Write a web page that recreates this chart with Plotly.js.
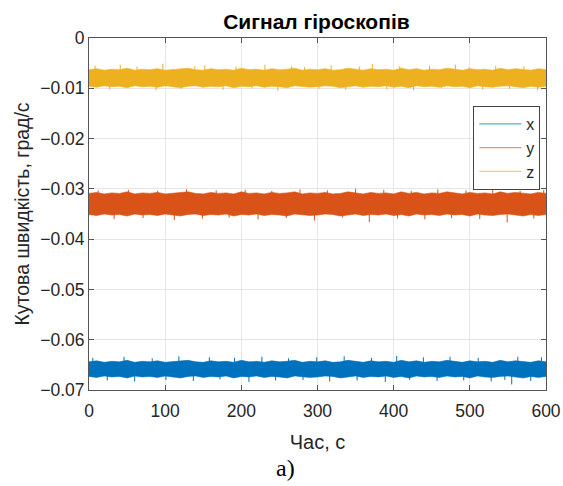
<!DOCTYPE html>
<html>
<head>
<meta charset="utf-8">
<script src="https://cdn.plot.ly/plotly-3.0.1.min.js"></script>
<style>html,body{margin:0;padding:0;background:#fff}#chart{width:563px;height:486px}</style>
</head>
<body>
<div id="chart"></div>
<script>
// Time, s
var time = [0,10,20,30,40,50,60,70,80,90,100,110,120,130,140,150,160,170,180,190,200,210,220,230,240,250,260,270,280,290,300,310,320,330,340,350,360,370,380,390,400,410,420,430,440,450,460,470,480,490,500,510,520,530,540,550,560,570,580,590,600];

// Upper and lower edges of the dense noise band of each gyro signal, deg/s
var zUpper = [-0.0063,-0.0061,-0.0064,-0.0062,-0.0063,-0.0060,-0.0064,-0.0062,-0.0063,-0.0061,-0.0064,-0.0063,-0.0062,-0.0060,-0.0063,-0.0064,-0.0061,-0.0063,-0.0062,-0.0064,-0.0060,-0.0063,-0.0062,-0.0064,-0.0061,-0.0063,-0.0062,-0.0060,-0.0064,-0.0062,-0.0063,-0.0061,-0.0064,-0.0063,-0.0060,-0.0062,-0.0064,-0.0061,-0.0063,-0.0062,-0.0064,-0.0060,-0.0063,-0.0061,-0.0064,-0.0062,-0.0063,-0.0060,-0.0062,-0.0064,-0.0061,-0.0063,-0.0062,-0.0064,-0.0060,-0.0063,-0.0061,-0.0062,-0.0064,-0.0061,-0.0063];
var zLower = [-0.0096,-0.0098,-0.0095,-0.0097,-0.0096,-0.0099,-0.0095,-0.0097,-0.0096,-0.0098,-0.0095,-0.0097,-0.0099,-0.0096,-0.0095,-0.0098,-0.0096,-0.0097,-0.0095,-0.0099,-0.0096,-0.0097,-0.0095,-0.0098,-0.0096,-0.0097,-0.0099,-0.0095,-0.0096,-0.0098,-0.0097,-0.0095,-0.0096,-0.0099,-0.0097,-0.0095,-0.0098,-0.0096,-0.0097,-0.0095,-0.0098,-0.0096,-0.0099,-0.0095,-0.0097,-0.0096,-0.0098,-0.0095,-0.0097,-0.0096,-0.0099,-0.0095,-0.0097,-0.0098,-0.0096,-0.0095,-0.0097,-0.0099,-0.0096,-0.0098,-0.0096];
var yUpper = [-0.0309,-0.0307,-0.0310,-0.0308,-0.0309,-0.0306,-0.0310,-0.0308,-0.0309,-0.0307,-0.0310,-0.0309,-0.0308,-0.0306,-0.0309,-0.0310,-0.0307,-0.0309,-0.0308,-0.0310,-0.0306,-0.0309,-0.0308,-0.0310,-0.0307,-0.0309,-0.0308,-0.0306,-0.0310,-0.0308,-0.0309,-0.0307,-0.0310,-0.0309,-0.0306,-0.0308,-0.0310,-0.0307,-0.0309,-0.0308,-0.0310,-0.0306,-0.0309,-0.0307,-0.0310,-0.0308,-0.0309,-0.0306,-0.0308,-0.0310,-0.0307,-0.0309,-0.0308,-0.0310,-0.0306,-0.0309,-0.0307,-0.0308,-0.0310,-0.0307,-0.0309];
var yLower = [-0.0351,-0.0353,-0.0350,-0.0352,-0.0351,-0.0354,-0.0350,-0.0352,-0.0351,-0.0353,-0.0350,-0.0352,-0.0354,-0.0351,-0.0350,-0.0353,-0.0351,-0.0352,-0.0350,-0.0354,-0.0351,-0.0352,-0.0350,-0.0353,-0.0351,-0.0352,-0.0354,-0.0350,-0.0351,-0.0353,-0.0352,-0.0350,-0.0351,-0.0354,-0.0352,-0.0350,-0.0353,-0.0351,-0.0352,-0.0350,-0.0353,-0.0351,-0.0354,-0.0350,-0.0352,-0.0351,-0.0353,-0.0350,-0.0352,-0.0351,-0.0354,-0.0350,-0.0352,-0.0353,-0.0351,-0.0350,-0.0352,-0.0354,-0.0351,-0.0353,-0.0351];
var xUpper = [-0.0644,-0.0642,-0.0645,-0.0643,-0.0644,-0.0641,-0.0645,-0.0643,-0.0644,-0.0642,-0.0645,-0.0644,-0.0643,-0.0641,-0.0644,-0.0645,-0.0642,-0.0644,-0.0643,-0.0645,-0.0641,-0.0644,-0.0643,-0.0645,-0.0642,-0.0644,-0.0643,-0.0641,-0.0645,-0.0643,-0.0644,-0.0642,-0.0645,-0.0644,-0.0641,-0.0643,-0.0645,-0.0642,-0.0644,-0.0643,-0.0645,-0.0641,-0.0644,-0.0642,-0.0645,-0.0643,-0.0644,-0.0641,-0.0643,-0.0645,-0.0642,-0.0644,-0.0643,-0.0645,-0.0641,-0.0644,-0.0642,-0.0643,-0.0645,-0.0642,-0.0644];
var xLower = [-0.0673,-0.0675,-0.0672,-0.0674,-0.0673,-0.0676,-0.0672,-0.0674,-0.0673,-0.0675,-0.0672,-0.0674,-0.0676,-0.0673,-0.0672,-0.0675,-0.0673,-0.0674,-0.0672,-0.0676,-0.0673,-0.0674,-0.0672,-0.0675,-0.0673,-0.0674,-0.0676,-0.0672,-0.0673,-0.0675,-0.0674,-0.0672,-0.0673,-0.0676,-0.0674,-0.0672,-0.0675,-0.0673,-0.0674,-0.0672,-0.0675,-0.0673,-0.0676,-0.0672,-0.0674,-0.0673,-0.0675,-0.0672,-0.0674,-0.0673,-0.0676,-0.0672,-0.0674,-0.0675,-0.0673,-0.0672,-0.0674,-0.0676,-0.0673,-0.0675,-0.0673];

// Mean level of each signal, deg/s
var xMean = -0.0658, yMean = -0.0330, zMean = -0.0079;

// Isolated noise spikes beyond the band: times (s) and peak values (deg/s)
var zSpikeT = [8,27,41,63,88,97,121,139,152,176,193,214,231,248,266,283,302,318,337,355,372,391,408,426,447,463,481,499,517,534,552,571,589];
var zSpikeV = [-0.0055,-0.0102,-0.0053,-0.0057,-0.0104,-0.0051,-0.0101,-0.0056,-0.0054,-0.0103,-0.0057,-0.0100,-0.0053,-0.0105,-0.0056,-0.0058,-0.0101,-0.0054,-0.0103,-0.0057,-0.0052,-0.0102,-0.0056,-0.0104,-0.0055,-0.0100,-0.0053,-0.0058,-0.0103,-0.0055,-0.0101,-0.0056,-0.0104];
var ySpikeT = [12,33,52,71,90,112,128,149,167,184,205,222,240,259,277,296,313,333,350,368,387,405,423,441,458,476,495,513,530,549,566,584,597];
var ySpikeV = [-0.0303,-0.0360,-0.0302,-0.0358,-0.0304,-0.0362,-0.0301,-0.0359,-0.0303,-0.0357,-0.0302,-0.0361,-0.0304,-0.0358,-0.0301,-0.0363,-0.0303,-0.0357,-0.0300,-0.0366,-0.0302,-0.0359,-0.0304,-0.0361,-0.0301,-0.0358,-0.0303,-0.0360,-0.0302,-0.0367,-0.0304,-0.0359,-0.0302];
var xSpikeT = [5,24,46,60,83,101,118,137,158,172,191,210,227,245,262,281,299,316,335,352,371,389,404,421,439,457,474,492,511,528,546,555,563,580,594];
var xSpikeV = [-0.0636,-0.0681,-0.0634,-0.0683,-0.0637,-0.0680,-0.0633,-0.0682,-0.0635,-0.0679,-0.0636,-0.0684,-0.0634,-0.0681,-0.0637,-0.0680,-0.0635,-0.0683,-0.0633,-0.0681,-0.0636,-0.0684,-0.0632,-0.0680,-0.0635,-0.0682,-0.0634,-0.0681,-0.0636,-0.0683,-0.0680,-0.0689,-0.0634,-0.0682,-0.0635];

var seriesNames = ['x', 'y', 'z'];
var xTicks = [0, 100, 200, 300, 400, 500, 600];
var yTickVals = [0, -0.01, -0.02, -0.03, -0.04, -0.05, -0.06, -0.07];
var yTickText = ['0', '\u22120.01', '\u22120.02', '\u22120.03', '\u22120.04', '\u22120.05', '\u22120.06', '\u22120.07'];

var colors = ['#0072BD', '#D95319', '#EDB120'];
var legendColors = ['#4DB3D9', '#E8917A', '#F0D070'];
var uppers = [xUpper, yUpper, zUpper];
var lowers = [xLower, yLower, zLower];
var means = [xMean, yMean, zMean];
var spikeT = [xSpikeT, ySpikeT, zSpikeT];
var spikeV = [xSpikeV, ySpikeV, zSpikeV];

var traces = [];
for (var i = 0; i < 3; i++) {
  traces.push({x: time, y: lowers[i], mode: 'lines', line: {color: colors[i], width: 0.6}, showlegend: false, hoverinfo: 'skip'});
  traces.push({x: time, y: uppers[i], mode: 'lines', fill: 'tonexty', fillcolor: colors[i], line: {color: colors[i], width: 0.6}, showlegend: false, hoverinfo: 'skip'});
  var sx = [], sy = [];
  for (var k = 0; k < spikeT[i].length; k++) {
    sx.push(spikeT[i][k], spikeT[i][k], null);
    sy.push(means[i], spikeV[i][k], null);
  }
  traces.push({x: sx, y: sy, mode: 'lines', line: {color: colors[i], width: 1}, showlegend: false, hoverinfo: 'skip', connectgaps: false});
}
for (var j = 0; j < 3; j++) {
  traces.push({x: [null], y: [null], mode: 'lines', name: seriesNames[j], line: {color: legendColors[j], width: 1.2}, showlegend: true});
}

var font = 'Liberation Sans, Arial, sans-serif';
var layout = {
  width: 563, height: 486,
  margin: {l: 89, r: 17, t: 38, b: 96},
  paper_bgcolor: '#fff', plot_bgcolor: '#fff',
  font: {family: font, color: '#262626'},
  title: {text: '<b>Сигнал гіроскопів</b>', font: {size: 21, color: '#000', family: font}, x: 0.562, xanchor: 'center', y: 0.955, yanchor: 'middle', xref: 'container', yref: 'container'},
  xaxis: {
    range: [0, 600], tickvals: xTicks, ticks: 'inside', ticklen: 5, tickcolor: '#555',
    showline: true, linecolor: '#555', linewidth: 1, mirror: 'ticks',
    showgrid: true, gridcolor: '#e6e6e6', zeroline: false,
    tickfont: {size: 17.5, color: '#262626'}, ticklabelstandoff: 5,
    title: {text: 'Час, с', font: {size: 20, color: '#262626'}, standoff: 14}
  },
  yaxis: {
    range: [-0.07, 0], tickvals: yTickVals, ticktext: yTickText, ticks: 'inside', ticklen: 5, tickcolor: '#555',
    showline: true, linecolor: '#555', linewidth: 1, mirror: 'ticks',
    showgrid: true, gridcolor: '#e6e6e6', zeroline: false,
    tickfont: {size: 17.5, color: '#262626'},
    title: {text: 'Кутова швидкість, град/с', font: {size: 19.5, color: '#262626'}, standoff: 5}
  },
  legend: {x: 0.841, y: 0.807, xanchor: 'left', yanchor: 'top', traceorder: 'normal', bgcolor: '#fff', bordercolor: '#444', borderwidth: 1, font: {size: 16, color: '#262626'}, itemwidth: 42, tracegroupgap: 0},
  annotations: [{text: 'а)', xref: 'paper', yref: 'paper', x: 0.43, y: -0.222, xanchor: 'center', yanchor: 'middle', showarrow: false, font: {family: 'Liberation Serif, Times New Roman, serif', size: 24, color: '#000'}}]
};

Plotly.newPlot('chart', traces, layout, {displayModeBar: false, staticPlot: true});
</script>
</body>
</html>
